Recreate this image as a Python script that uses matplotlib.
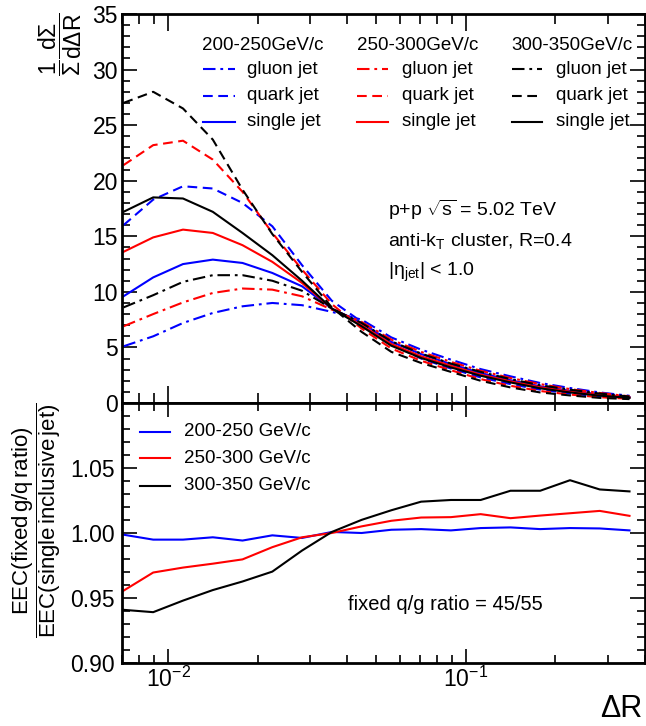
import numpy as np
import matplotlib
matplotlib.use("Agg")
import matplotlib.pyplot as plt
from matplotlib.lines import Line2D
from matplotlib.ticker import FixedLocator, NullFormatter, LogLocator, MultipleLocator, FormatStrFormatter

# ---------------- data ----------------
dR = [0.00708, 0.00891, 0.01122, 0.01413, 0.01778, 0.02239, 0.02818, 0.03548, 0.04467,
      0.05623, 0.07079, 0.08913, 0.1122, 0.1413, 0.1778, 0.2239, 0.2818, 0.3548]

# 200-250 GeV/c
gluon_200 = [5.1, 6.0, 7.2, 8.1, 8.7, 9.0, 8.8, 8.2, 7.5, 5.9, 4.8, 3.9, 3.05, 2.4, 1.8, 1.35, 0.95, 0.65]
quark_200 = [16.0, 18.3, 19.5, 19.3, 18.0, 15.9, 12.4, 9.2, 7.3, 5.3, 4.0, 3.1, 2.3, 1.7, 1.2, 0.85, 0.6, 0.42]
single_200 = [9.6, 11.3, 12.5, 12.9, 12.6, 11.7, 10.5, 8.5, 7.2, 5.5, 4.4, 3.5, 2.7, 2.05, 1.5, 1.1, 0.78, 0.53]
# 250-300 GeV/c
gluon_250 = [6.9, 8.0, 9.05, 9.9, 10.3, 10.2, 9.6, 8.4, 7.3, 5.7, 4.6, 3.7, 2.9, 2.25, 1.7, 1.25, 0.9, 0.6]
quark_250 = [21.4, 23.2, 23.6, 21.9, 19.0, 15.3, 12.0, 8.9, 6.7, 4.9, 3.8, 2.95, 2.15, 1.55, 1.08, 0.76, 0.52, 0.38]
single_250 = [13.6, 14.9, 15.6, 15.3, 14.2, 12.7, 10.8, 8.5, 7.0, 5.3, 4.2, 3.35, 2.55, 1.95, 1.42, 1.02, 0.72, 0.5]
# 300-350 GeV/c
gluon_300 = [8.6, 9.7, 10.9, 11.5, 11.5, 11.0, 10.1, 8.5, 7.2, 5.55, 4.45, 3.55, 2.8, 2.15, 1.6, 1.2, 0.85, 0.58]
quark_300 = [27.0, 28.0, 26.5, 23.7, 19.2, 15.2, 11.8, 8.6, 6.4, 4.6, 3.6, 2.8, 2.0, 1.4, 0.95, 0.68, 0.46, 0.35]
single_300 = [17.2, 18.5, 18.4, 17.2, 15.3, 13.3, 11.0, 8.5, 6.9, 5.15, 4.05, 3.2, 2.45, 1.85, 1.32, 0.95, 0.66, 0.46]

# ratio fixed q/g (45/55) over single inclusive
ratio_200 = [0.9987, 0.9949, 0.9949, 0.9967, 0.9942, 0.9982, 0.9962, 1.0008, 1.0000,
             1.0025, 1.0030, 1.0020, 1.0038, 1.0043, 1.0030, 1.0038, 1.0035, 1.0020]
ratio_250 = [0.9556, 0.9696, 0.9734, 0.9764, 0.9797, 0.9891, 0.9967, 1.0000, 1.0051,
             1.0094, 1.0119, 1.0122, 1.0145, 1.0114, 1.0134, 1.0152, 1.0170, 1.0132]
ratio_300 = [0.9409, 0.9391, 0.9480, 0.9561, 0.9627, 0.9703, 0.9865, 1.0008, 1.0101,
             1.0175, 1.0241, 1.0254, 1.0254, 1.0325, 1.0325, 1.0406, 1.0335, 1.0320]

bins = ["200-250GeV/c", "250-300GeV/c", "300-350GeV/c"]
ratio_labels = ["200-250 GeV/c", "250-300 GeV/c", "300-350 GeV/c"]
jet_labels = ["gluon jet", "quark jet", "single jet"]
colors = ["#0000ff", "#ff0000", "#000000"]

# ---------------- style ----------------
plt.rcParams["font.family"] = ["Liberation Sans", "DejaVu Sans"]
plt.rcParams["mathtext.fontset"] = "custom"
plt.rcParams["mathtext.rm"] = "Liberation Sans"
plt.rcParams["mathtext.it"] = "Liberation Sans:italic"
plt.rcParams["mathtext.bf"] = "Liberation Sans:bold"
plt.rcParams["lines.scale_dashes"] = False

W, H = 646, 726
LW = 1.5
styles = {"gluon jet": (0, (9, 3.5, 2, 3.5)), "quark jet": (0, (7, 4)), "single jet": "-"}

fig = plt.figure(figsize=(W / 100, H / 100), dpi=100)
ax1 = fig.add_axes([122 / W, 1 - 403 / H, 523 / W, 389 / H])
ax2 = fig.add_axes([122 / W, 1 - 663 / H, 523 / W, 260 / H])

series = [
    [gluon_200, quark_200, single_200],
    [gluon_250, quark_250, single_250],
    [gluon_300, quark_300, single_300],
]
for c, group in zip(colors, series):
    for lab, ys in zip(jet_labels, group):
        ax1.plot(dR, ys, color=c, lw=LW, linestyle=styles[lab])

for c, ys in zip(colors, [ratio_200, ratio_250, ratio_300]):
    ax2.plot(dR, ys, color=c, lw=LW)

for ax in (ax1, ax2):
    ax.set_xscale("log")
    ax.set_xlim(0.007, 0.4)
    ax.xaxis.set_major_locator(LogLocator(base=10, numticks=10))
    ax.xaxis.set_minor_locator(LogLocator(base=10, subs=np.arange(2, 10), numticks=20))
    ax.xaxis.set_minor_formatter(NullFormatter())
    for s in ax.spines.values():
        s.set_linewidth(2.0)

ax1.set_ylim(0, 35)
ax1.yaxis.set_major_locator(MultipleLocator(5))
ax1.yaxis.set_minor_locator(MultipleLocator(1))
ax1.tick_params(which="both", direction="in", top=True, right=True, width=1.2)
ax1.tick_params(axis="y", which="major", length=11, labelsize=16.5, pad=3)
ax1.tick_params(axis="y", which="minor", length=5.5)
ax1.tick_params(axis="x", which="major", length=12, labelbottom=False)
ax1.tick_params(axis="x", which="minor", length=7)

ax2.set_ylim(0.9, 1.1)
ax2.yaxis.set_major_locator(FixedLocator([0.90, 0.95, 1.00, 1.05]))
ax2.yaxis.set_minor_locator(MultipleLocator(0.01))
ax2.yaxis.set_major_formatter(FormatStrFormatter("%.2f"))
ax2.tick_params(which="both", direction="in", top=True, right=True, width=1.2)
ax2.tick_params(axis="y", which="major", length=11, labelsize=16.5, pad=5)
ax2.tick_params(axis="y", which="minor", length=5.5)
ax2.tick_params(axis="x", which="major", length=10, labelsize=16.5, pad=3)
ax2.tick_params(axis="x", which="minor", length=5.5)

# ---------------- texts ----------------
def fx(x):
    return x / W

def fy(y):
    return 1 - y / H

# top legend (three columns)
col_line_x = [(203, 235), (357, 388), (512, 542)]
col_text_x = [247, 402, 556]
head_x = [202, 357, 511]
row_y = [69, 96, 122]
for j in range(3):
    fig.text(fx(head_x[j]), fy(45), bins[j], fontsize=13.5, ha="left", va="center")
    for i, lab in enumerate(jet_labels):
        x0, x1 = col_line_x[j]
        fig.add_artist(Line2D([fx(x0), fx(x1)], [fy(row_y[i]), fy(row_y[i])],
                              transform=fig.transFigure, color=colors[j], lw=LW,
                              linestyle=styles[lab]))
        fig.text(fx(col_text_x[j]), fy(row_y[i]), lab, fontsize=13.5, ha="left", va="center")

fig.text(fx(388), fy(210), r"p+p $\sqrt{\mathrm{s}}$ = 5.02 TeV", fontsize=14, ha="left", va="center")
fig.text(fx(388), fy(241), r"anti-k$_\mathrm{T}$ cluster, R=0.4", fontsize=14, ha="left", va="center")
fig.text(fx(388), fy(272), r"|η$_\mathrm{jet}$| < 1.0", fontsize=14, ha="left", va="center")

# bottom legend
rl_y = [432, 458, 486]
for i in range(3):
    fig.add_artist(Line2D([fx(140), fx(170)], [fy(rl_y[i]), fy(rl_y[i])],
                          transform=fig.transFigure, color=colors[i], lw=LW))
    fig.text(fx(184), fy(rl_y[i]), ratio_labels[i], fontsize=13.5, ha="left", va="center")

fig.text(fx(348), fy(605), "fixed q/g ratio = 45/55", fontsize=14.5, ha="left", va="center")

# axis labels
fig.text(fx(60), fy(44), r"$\dfrac{1}{\Sigma}\dfrac{\mathrm{d}\Sigma}{\mathrm{d}\Delta\mathrm{R}}$",
         fontsize=16.5, rotation=90, ha="center", va="center")
fig.text(fx(37), fy(520),
         r"$\dfrac{\mathrm{EEC(fixed\,g/q\,ratio)}}{\mathrm{EEC(single\,inclusive\,jet)}}$",
         fontsize=16, rotation=90, ha="center", va="center")
fig.text(fx(642), fy(709), "ΔR", fontsize=22, ha="right", va="center")

fig.savefig("out.png", dpi=100)
